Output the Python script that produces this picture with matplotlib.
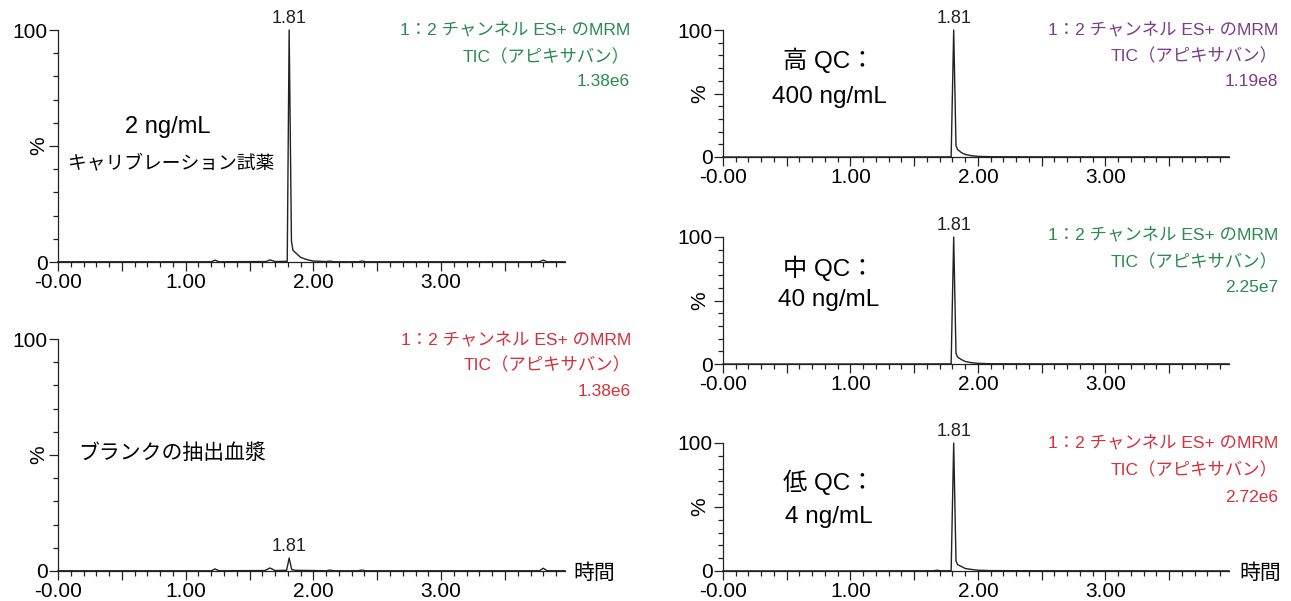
import matplotlib
matplotlib.use("Agg")
import matplotlib.pyplot as plt
from matplotlib.ticker import FixedLocator, FixedFormatter

plt.rcParams['font.family'] = ['Liberation Sans', 'Noto Sans CJK JP', 'DejaVu Sans']

W, H = 1291, 601

# chromatogram data (retention time in min, relative intensity in %)
cal_t = [0.00, 0.50, 1.20, 1.23, 1.26, 1.63, 1.66, 1.70, 1.795, 1.81, 1.828, 1.84, 1.87, 1.90, 1.95, 2.00, 2.10, 2.13, 2.16, 2.35, 2.38, 2.41, 3.00, 3.77, 3.80, 3.83, 3.97]
cal_i = [0.1, 0.1, 0.1, 0.8, 0.1, 0.2, 0.9, 0.2, 0.3, 100.0, 9.0, 5.0, 3.5, 2.0, 1.0, 0.4, 0.2, 0.4, 0.1, 0.1, 0.4, 0.1, 0.1, 0.1, 0.8, 0.1, 0.1]

blank_t = [0.00, 0.50, 1.20, 1.23, 1.26, 1.62, 1.66, 1.70, 1.79, 1.81, 1.83, 1.86, 2.00, 2.10, 2.13, 2.16, 2.35, 2.38, 2.41, 3.00, 3.77, 3.80, 3.83, 3.97]
blank_i = [0.1, 0.1, 0.1, 0.9, 0.1, 0.2, 1.3, 0.2, 0.3, 5.6, 0.6, 0.3, 0.2, 0.1, 0.4, 0.1, 0.1, 0.4, 0.1, 0.1, 0.1, 1.2, 0.1, 0.1]

high_t = [0.00, 1.00, 1.79, 1.81, 1.828, 1.84, 1.87, 1.90, 1.95, 2.00, 2.10, 2.50, 3.97]
high_i = [0.0, 0.0, 0.1, 100.0, 9.0, 6.0, 3.5, 2.0, 1.0, 0.5, 0.2, 0.1, 0.1]

mid_t = [0.00, 1.00, 1.79, 1.81, 1.828, 1.84, 1.87, 1.90, 1.95, 2.00, 2.10, 2.50, 3.97]
mid_i = [0.0, 0.0, 0.1, 100.0, 8.5, 5.5, 3.5, 2.0, 1.0, 0.5, 0.2, 0.1, 0.1]

low_t = [0.00, 1.00, 1.65, 1.68, 1.71, 1.79, 1.81, 1.828, 1.84, 1.87, 1.90, 1.95, 2.00, 2.10, 2.50, 3.97]
low_i = [0.1, 0.1, 0.2, 0.6, 0.2, 0.2, 100.0, 8.0, 5.0, 3.5, 2.0, 1.2, 0.6, 0.3, 0.2, 0.1]

peak_rt = 1.81
peak_label = "1.81"
channel_line = "1：2 チャンネル ES+ のMRM"
compound_line = "TIC（アピキサバン）"
xtick_pos = [0, 0.5, 1, 1.5, 2, 2.5, 3, 3.5]
xtick_labels = ["-0.00", "", "1.00", "", "2.00", "", "3.00", ""]
ytick_pos = [0, 50, 100]
ytick_labels = ["0", "", "100"]

GREEN = "#2b8a52"
RED = "#d6303b"
PURPLE = "#7b3c8c"


def fx(x):
    return x / W


def fy(y):
    return 1 - y / H


def make_axes(x0, x1, y100, y0):
    return fig.add_axes([fx(x0), fy(y0), fx(x1 - x0), (y0 - y100) / H])


def draw(ax, t, i, label_peak=True):
    ax.plot(t, i, color="#222222", lw=1.0, clip_on=False)
    ax.set_xlim(0, 3.97)
    ax.set_ylim(0, 100)
    for s in ["top", "right"]:
        ax.spines[s].set_visible(False)
    for s in ["left", "bottom"]:
        ax.spines[s].set_linewidth(0.9)
        ax.spines[s].set_color("#222222")
    ax.xaxis.set_major_locator(FixedLocator(xtick_pos))
    ax.xaxis.set_major_formatter(FixedFormatter(xtick_labels))
    ax.xaxis.set_minor_locator(FixedLocator([k / 10 for k in range(40)]))
    ax.yaxis.set_major_locator(FixedLocator(ytick_pos))
    ax.yaxis.set_major_formatter(FixedFormatter(ytick_labels))
    ax.yaxis.set_minor_locator(FixedLocator(list(range(0, 101, 10))))
    ax.tick_params(which="major", length=6.5, width=0.9, color="#222222",
                   labelsize=15, pad=1)
    ax.tick_params(which="minor", length=3.5, width=0.9, color="#222222")
    ax.tick_params(axis="x", which="major", pad=1.5)
    if label_peak:
        top = max(i)
        ax.annotate(peak_label, (peak_rt, top), xytext=(0, 2),
                    textcoords="offset points", ha="center", va="bottom",
                    fontsize=13, color="#222222")


def info(xr, ys, color, value):
    for y, s in zip(ys, [channel_line, compound_line, value]):
        fig.text(fx(xr), fy(y), s, ha="right", va="center", fontsize=12.5,
                 color=color)


fig = plt.figure(figsize=(W / 100, H / 100), dpi=100)

# left top: calibration standard
ax1 = make_axes(58, 565, 30, 262)
draw(ax1, cal_t, cal_i)
info(630, [30, 57, 82], GREEN, "1.38e6")
fig.text(fx(168), fy(127), "2 ng/mL", ha="center", va="center", fontsize=17)
fig.text(fx(171), fy(163), "キャリブレーション試薬", ha="center", va="center", fontsize=13.5)
fig.text(fx(39), fy(146), "%", rotation=90, ha="center", va="center", fontsize=15)

# left bottom: blank plasma
ax2 = make_axes(58, 565, 339, 571)
draw(ax2, blank_t, blank_i)
info(631, [340, 365, 392], RED, "1.38e6")
fig.text(fx(172), fy(453), "ブランクの抽出血漿", ha="center", va="center", fontsize=15)
fig.text(fx(39), fy(455), "%", rotation=90, ha="center", va="center", fontsize=15)
fig.text(fx(594), fy(573), "時間", ha="center", va="center", fontsize=15)

# right: QC samples
right = [
    (30, 157, high_t, high_i, PURPLE, "1.19e8", "高 QC：", "400 ng/mL", [30, 56, 82], 60, 97),
    (237, 364, mid_t, mid_i, GREEN, "2.25e7", "中 QC：", "40 ng/mL", [235, 262, 288], 268, 300),
    (443, 571, low_t, low_i, RED, "2.72e6", "低 QC：", "4 ng/mL", [443, 470, 497], 482, 517),
]
for y100, y0, t, i, col, val, l1, l2, ys, yl1, yl2 in right:
    ax = make_axes(723, 1229, y100, y0)
    draw(ax, t, i)
    info(1278, ys, col, val)
    fig.text(fx(829), fy(yl1), l1, ha="center", va="center", fontsize=17.5)
    fig.text(fx(829), fy(yl2), l2, ha="center", va="center", fontsize=17.5)
    fig.text(fx(700), fy((y100 + y0) / 2), "%", rotation=90, ha="center",
             va="center", fontsize=15)

fig.text(fx(1260), fy(573), "時間", ha="center", va="center", fontsize=15)

fig.savefig("out.png", dpi=100)
